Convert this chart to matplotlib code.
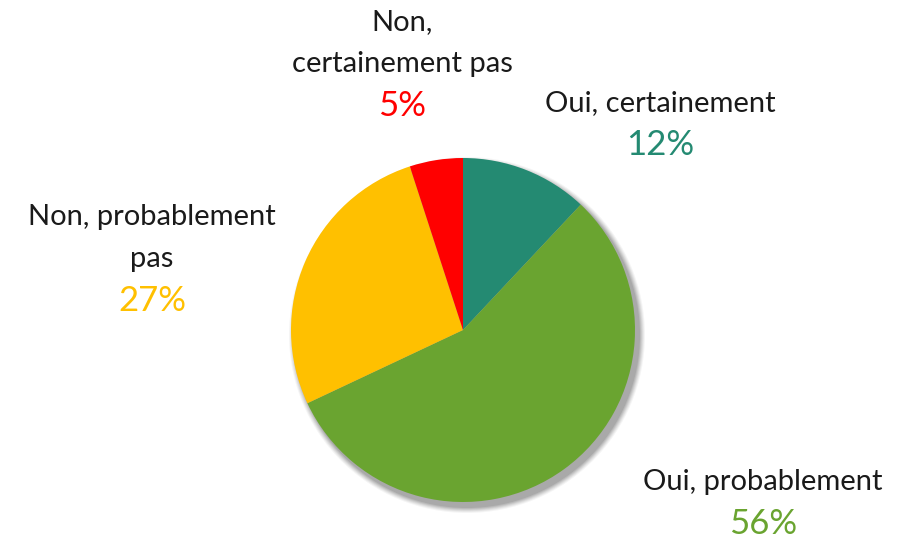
import matplotlib
matplotlib.use('agg')
import matplotlib.pyplot as plt
from matplotlib.patches import Circle

# data
categories = ['Oui, certainement', 'Oui, probablement', 'Non, probablement pas', 'Non, certainement pas']
shares = [12, 56, 27, 5]
colors = ['#248A72', '#6AA430', '#FFC000', '#FF0000']

# label text (with line breaks as in the original) and their anchor positions (pixels)
label_text = ['Oui, certainement', 'Oui, probablement', 'Non, probablement\npas', 'Non,\ncertainement pas']
label_pos = [(660, 103), (763, 482), (152, 217), (402, 22)]

W, H = 911, 542
fig = plt.figure(figsize=(W / 100, H / 100), dpi=100)
ax = fig.add_axes([0, 0, 1, 1])
ax.set_xlim(0, W)
ax.set_ylim(0, H)
ax.set_aspect('equal')
ax.axis('off')

cx, cy, r = 463, H - 330, 172

# soft shadow behind the pie
for i, a in enumerate([0.04, 0.05, 0.06, 0.07, 0.08, 0.09]):
    ax.add_patch(Circle((cx + 4, cy - 5), r + 6 - i, color='black', alpha=a, lw=0, zorder=1))

ax.pie(shares, colors=colors, startangle=90, counterclock=False,
       center=(cx, cy), radius=r, frame=True,
       wedgeprops=dict(linewidth=0, zorder=2))
ax.set_xlim(0, W)
ax.set_ylim(0, H)
ax.axis('off')

font = 'Lato'
line = 42
for txt, (px, py), val, col in zip(label_text, label_pos, shares, colors):
    lines = txt.split('\n')
    for k, ln in enumerate(lines):
        ax.text(px, H - (py + k * line), ln, ha='center', va='center',
                fontsize=21, family=font, color='#1a1a1a')
    ax.text(px, H - (py + len(lines) * line), f'{val}%', ha='center', va='center',
            fontsize=25, family=font, color=col)

fig.savefig('out.png', dpi=100)
